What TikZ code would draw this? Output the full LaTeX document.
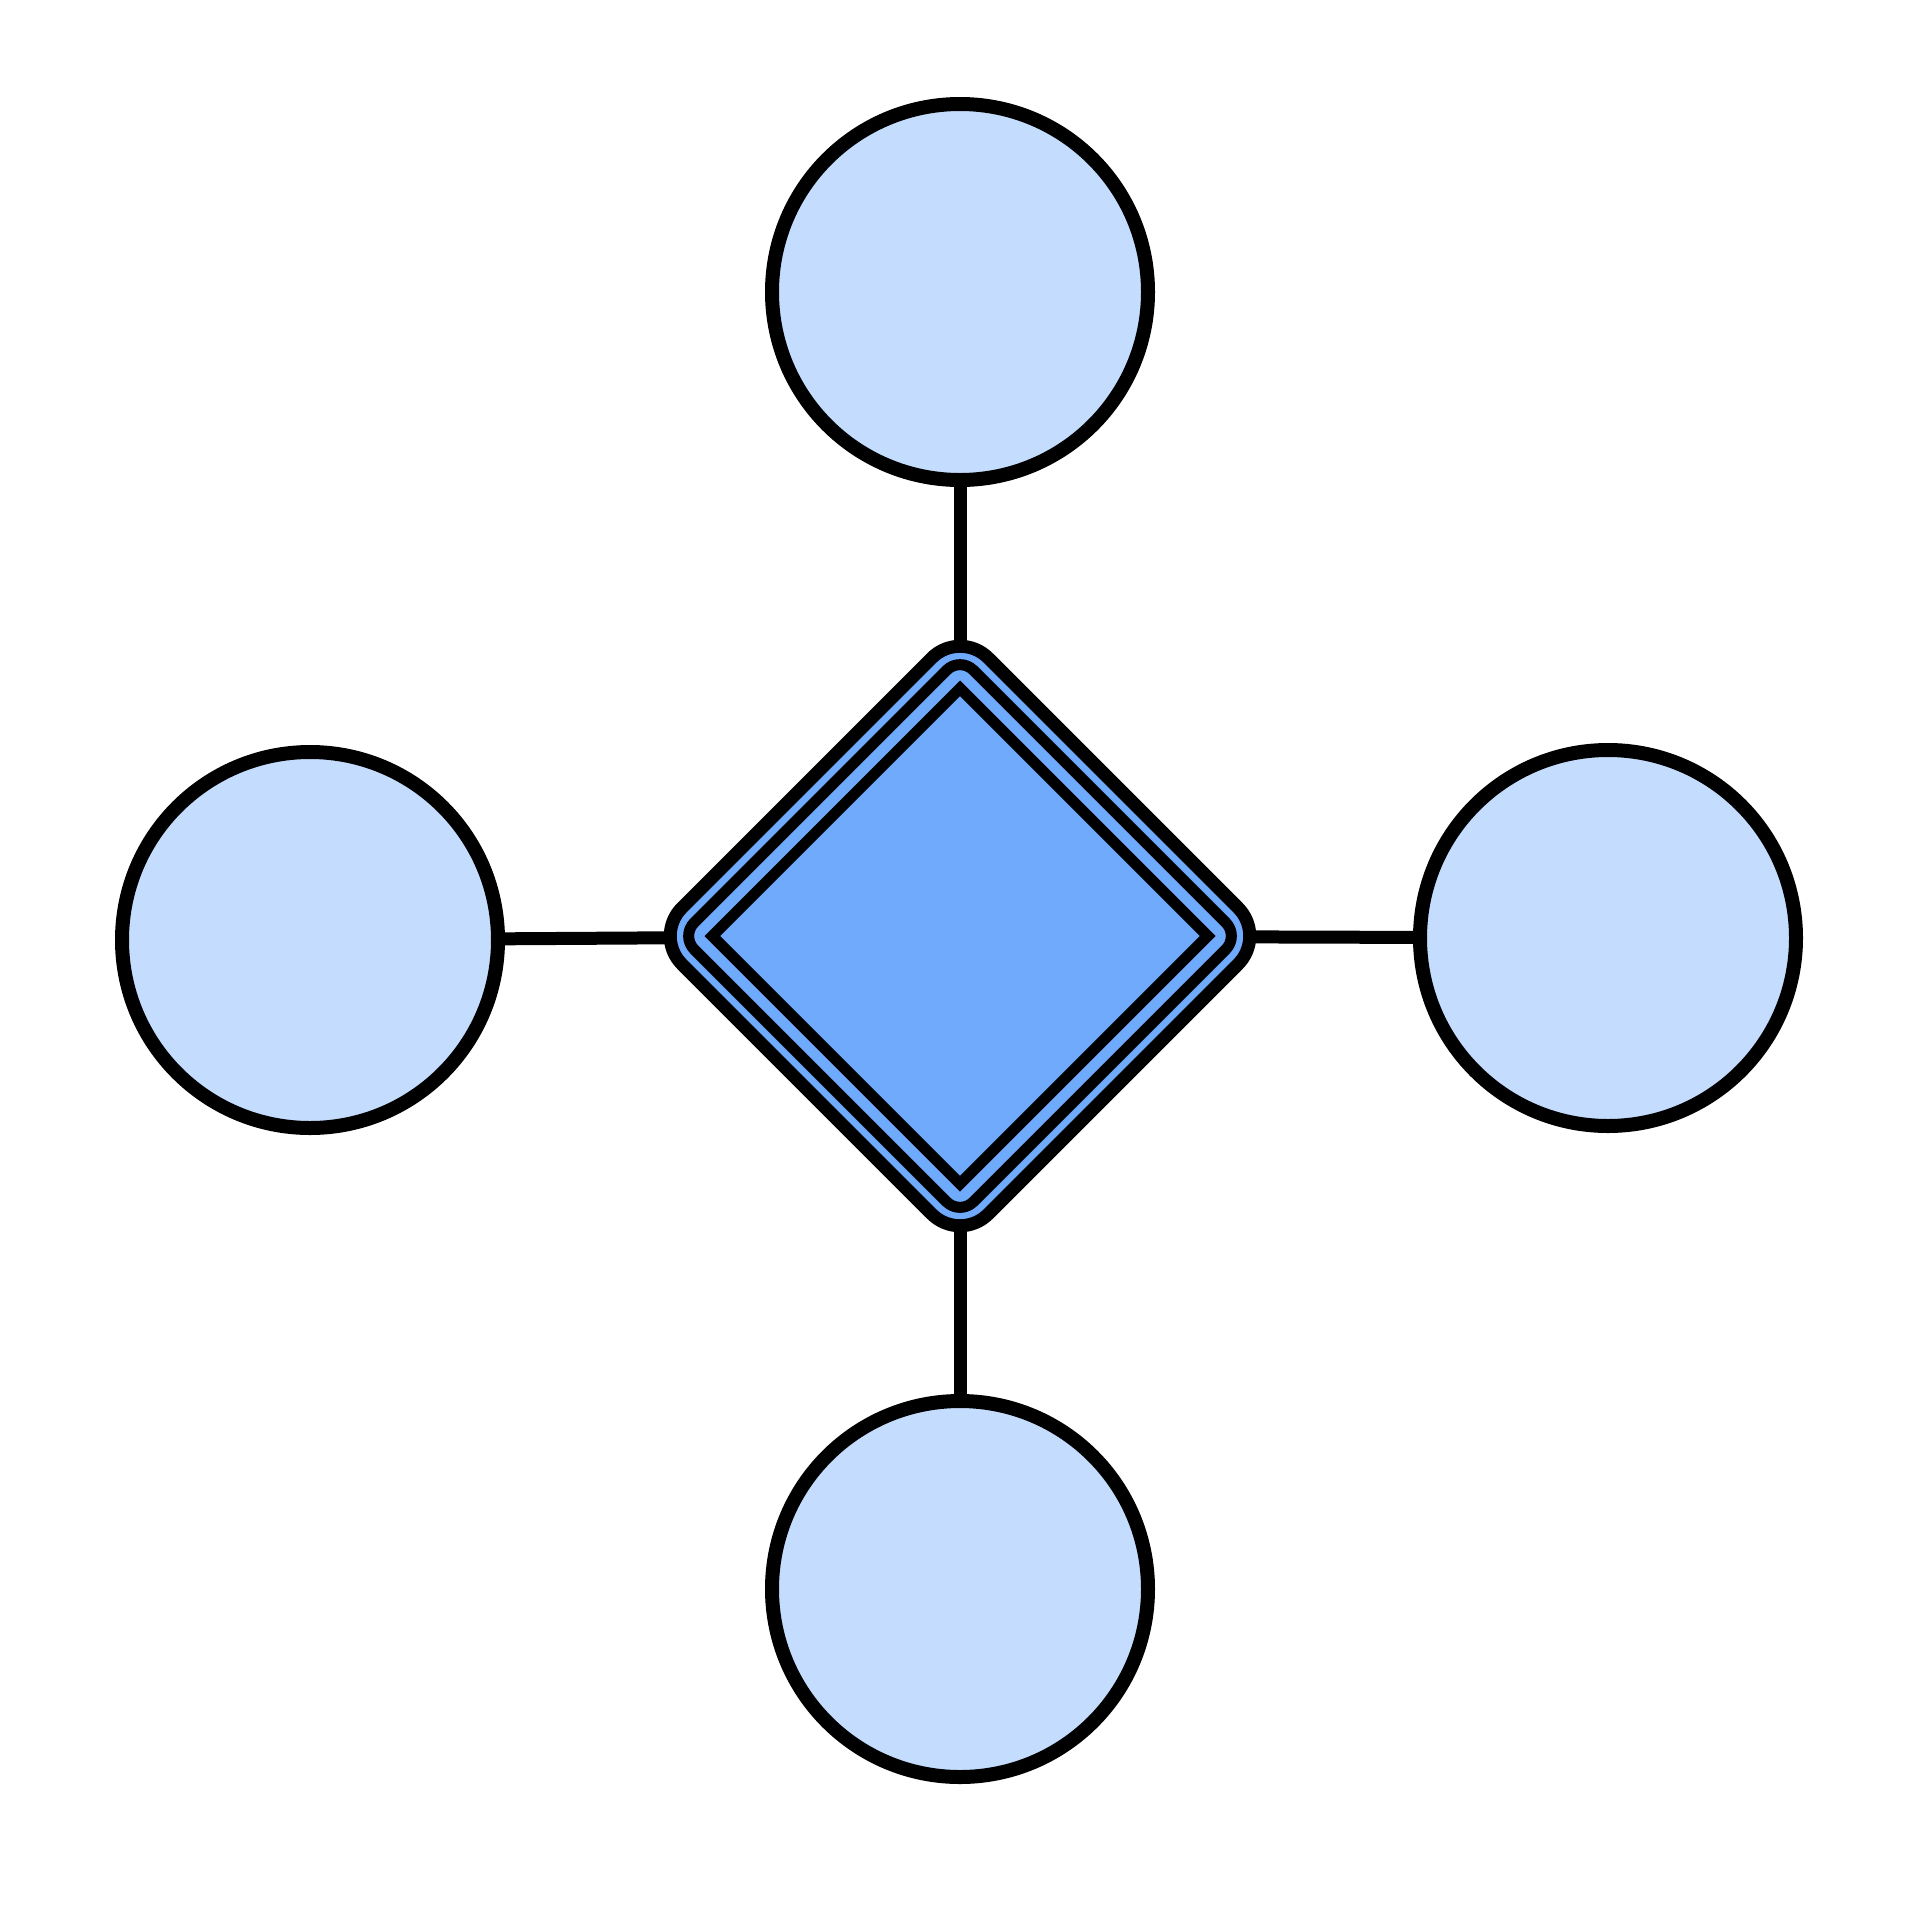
\documentclass[tikz,border=0pt]{standalone}
\usetikzlibrary{shapes.geometric,backgrounds}
\definecolor{leafblue}{RGB}{196,220,253}
\definecolor{hubblue}{RGB}{111,170,253}
\tikzset{
  leaf/.style={circle, draw=black, fill=leafblue, line width=14pt, inner sep=0pt, minimum size=376pt},
  hubring/.style={diamond, aspect=1, draw=black, inner sep=0pt},
  link/.style={draw=black, line width=13pt}
}
\begin{document}
\begin{tikzpicture}[x=1pt,y=-1pt]
      \useasboundingbox (0,0) rectangle (1920,1920);
      \node [hubring, fill=hubblue, line width=13pt, rounded corners=40pt, minimum size=618pt] (hub) at (960,936) {};
      \node [hubring, line width=11pt, rounded corners=19pt, minimum size=563pt] (hubmid) at (960,936) {};
      \node [hubring, line width=11pt, miter limit=10, minimum size=500pt] (hubcore) at (960,936) {};
      \node [leaf] (top) at (960,292) {};
      \node [leaf] (left) at (310,940) {};
      \node [leaf] (right) at (1608,938) {};
      \node [leaf] (bottom) at (960,1589) {};
      \begin{scope}[on background layer]
        \draw [link] (top) -- (hub.center);
        \draw [link] (left) -- (hub.center);
        \draw [link] (right) -- (hub.center);
        \draw [link] (bottom) -- (hub.center);
      \end{scope}
\end{tikzpicture}
\end{document}
